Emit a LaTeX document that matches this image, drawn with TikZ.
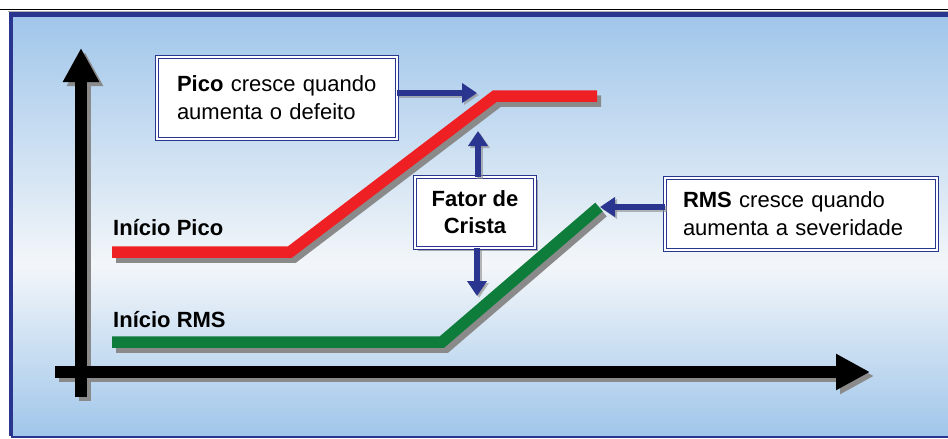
\documentclass[tikz,border=0pt]{standalone}
\usepackage{fontspec}
\setmainfont{Liberation Sans}
\usetikzlibrary{arrows.meta,shadows}
\definecolor{navy}{HTML}{2A3590}
\definecolor{bgblue}{HTML}{A0C6EA}
\definecolor{bgwhite}{HTML}{F3F6F9}
\definecolor{redline}{HTML}{EE2024}
\definecolor{greenline}{HTML}{0E7D3C}
\definecolor{shadowgray}{HTML}{8A8A8A}
\begin{document}
\begin{tikzpicture}[x=1pt,y=-1pt,
  callout/.style={draw=navy, double=white, line width=1.4pt, double distance=1.1pt,
    fill=white, inner ysep=0pt, outer sep=0pt, align=left,
    font=\fontsize{22}{28}\selectfont},
  crestbox/.style={callout, align=center, font=\fontsize{22}{27}\selectfont\bfseries,
    drop shadow={shadow xshift=3pt, shadow yshift=-3pt, fill=shadowgray, opacity=0.7}},
  lbl/.style={anchor=west, inner sep=0pt, font=\fontsize{22}{25}\selectfont\bfseries},
  navyarrow/.style={draw=navy, line width=5.5pt, -{Triangle[length=15pt, width=19pt]}},
  navyshadow/.style={draw=shadowgray, line width=5.5pt, -{Triangle[length=15pt, width=19pt]}, opacity=0.6},
  axis/.style={draw=black, line width=12pt, -{Triangle[length=34pt, width=34pt]}},
  axisshadow/.style={draw=shadowgray, line width=12pt, -{Triangle[length=34pt, width=34pt]}},
  trace/.style={line width=11.5pt, line join=miter, line cap=butt},
  traceshadow/.style={trace, draw=shadowgray}]
\useasboundingbox (0,0) rectangle (948,439);
\fill[white] (0,0) rectangle (948,439);
% background panel
\shade[top color=bgblue, bottom color=bgwhite] (11,15) rectangle (948,265);
\shade[top color=bgwhite, bottom color=bgblue] (11,265) rectangle (948,436);
\draw[black, line width=1.6pt] (0,9.5) -- (948,9.5);
\draw[gray!60, line width=1.5pt] (8,11.5) -- (948,11.5);
\draw[navy, line width=4.5pt] (948,14.5) -- (11,14.5) -- (11,436);
\draw[navy, line width=2.5pt] (11,437) -- (948,437);
% axes
\coordinate (ybot) at (81,397);
\coordinate (ytop) at (81,48);
\coordinate (xleft) at (55,372);
\coordinate (xright) at (870,372);
\draw[axisshadow] ([shift={(4,4)}]ybot) -- ([shift={(4,4)}]ytop);
\draw[axisshadow] ([shift={(4,4)}]xleft) -- ([shift={(4,4)}]xright);
\draw[axis] (ybot) -- (ytop);
\draw[axis] (xleft) -- (xright);
% traces
\coordinate (r0) at (112,252);
\coordinate (r1) at (290,252);
\coordinate (r2) at (495,96);
\coordinate (r3) at (597,96);
\coordinate (g0) at (112,342);
\coordinate (g1) at (442,342);
\coordinate (g2) at (599,207);
\draw[traceshadow] ([shift={(4,5)}]r0) -- ([shift={(4,5)}]r1) -- ([shift={(4,5)}]r2) -- ([shift={(4,5)}]r3);
\draw[traceshadow] ([shift={(4,5)}]g0) -- ([shift={(4,5)}]g1) -- ([shift={(4,5)}]g2);
\draw[trace, draw=redline] (r0) -- (r1) -- (r2) -- (r3);
\draw[trace, draw=greenline] (g0) -- (g1) -- (g2);
% labels
\node[lbl] (ipico) at (113,228) {Início Pico};
\node[lbl] (irms) at (113,320) {Início RMS};
% callouts
\node[callout, text width=200pt, inner xsep=20pt, minimum height=82pt] (pico) at (277,98)
  {\textbf{Pico} cresce quando\\aumenta o defeito};
\node[crestbox, minimum width=120pt, minimum height=71pt, inner xsep=0pt] (fator) at (475,212.5)
  {Fator de\\Crista};
\node[callout, text width=236pt, inner xsep=18pt, minimum height=72pt] (rms) at (801,214)
  {\textbf{RMS} cresce quando\\aumenta a severidade};
% arrows
\coordinate (picotip) at (477,93);
\coordinate (uptip) at (478,131);
\coordinate (dntip) at (477,296);
\coordinate (rmstip) at (600,207);
\draw[navyshadow] ([shift={(2,2)}]pico.east |- picotip) -- ([shift={(2,2)}]picotip);
\draw[navyshadow] ([shift={(2,2)}]uptip |- fator.north) -- ([shift={(2,2)}]uptip);
\draw[navyshadow] ([shift={(2,2)}]dntip |- fator.south) -- ([shift={(2,2)}]dntip);
\draw[navyshadow] ([shift={(2,2)}]rms.west |- rmstip) -- ([shift={(2,2)}]rmstip);
\draw[navyarrow] (pico.east |- picotip) -- (picotip);
\draw[navyarrow] (uptip |- fator.north) -- (uptip);
\draw[navyarrow] (dntip |- fator.south) -- (dntip);
\draw[navyarrow] (rms.west |- rmstip) -- (rmstip);
\end{tikzpicture}
\end{document}
